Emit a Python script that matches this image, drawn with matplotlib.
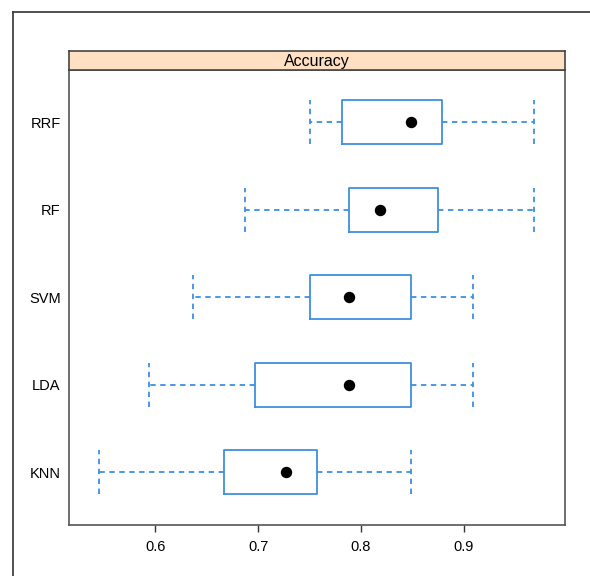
import matplotlib
matplotlib.use("Agg")
import matplotlib.pyplot as plt
from matplotlib.lines import Line2D

plt.rcParams['font.family'] = ['Liberation Sans', 'DejaVu Sans']

models = ['KNN', 'LDA', 'SVM', 'RF', 'RRF']
whisker_low = [0.5455, 0.5938, 0.6364, 0.6875, 0.7500]
q1 = [0.6667, 0.6970, 0.7500, 0.7879, 0.7813]
medians = [0.7273, 0.7879, 0.7879, 0.8182, 0.8485]
q3 = [0.7576, 0.8485, 0.8485, 0.8750, 0.8788]
whisker_high = [0.8485, 0.9091, 0.9091, 0.9688, 0.9688]
x_ticks = [0.6, 0.7, 0.8, 0.9]
panel_title = 'Accuracy'

blue = '#3f8fe0'
W, H = 590, 576
fig = plt.figure(figsize=(W / 100, H / 100), dpi=100)
fig.patch.set_facecolor('white')

left, right = 69 / W, 565 / W
bottom, top = 1 - 524.7 / H, 1 - 69.7 / H
strip_top = 1 - 50.7 / H

ax = fig.add_axes([left, bottom, right - left, top - bottom])
stats = []
for i, m in enumerate(models):
    stats.append(dict(label=m, whislo=whisker_low[i], q1=q1[i], med=medians[i],
                      q3=q3[i], whishi=whisker_high[i], fliers=[]))
positions = list(range(1, len(models) + 1))
ax.bxp(stats, positions=positions, vert=False, widths=0.5, capwidths=0.5,
       showfliers=False, patch_artist=False,
       boxprops=dict(color=blue, linewidth=1.3),
       whiskerprops=dict(color=blue, linewidth=1.3, linestyle=(0, (3, 2.5))),
       capprops=dict(color=blue, linewidth=1.3, linestyle=(0, (3, 2.5))),
       medianprops=dict(linewidth=0))
ax.plot(medians, positions, 'o', color='black', markersize=7.2, zorder=5)

ax.set_xlim(0.516, 0.9985)
ax.set_ylim(0.4, 5.6)
ax.set_xticks(x_ticks)
ax.set_xticklabels([f'{t:.1f}' for t in x_ticks])
ax.set_yticks(positions)
ax.set_yticklabels(models)
ax.tick_params(axis='x', direction='out', length=5, width=1, color='#333333',
               labelsize=10.5, pad=6)
ax.tick_params(axis='y', length=0, labelsize=10.5, pad=6)
for s in ax.spines.values():
    s.set_color('#555555')
    s.set_linewidth(1.2)

sax = fig.add_axes([left, top, right - left, strip_top - top])
sax.set_facecolor('#FFE0C2')
sax.set_xticks([])
sax.set_yticks([])
for s in sax.spines.values():
    s.set_color('#444444')
    s.set_linewidth(1.2)
sax.text(0.5, 0.45, panel_title, ha='center', va='center', fontsize=11.5,
         transform=sax.transAxes)

fx = 13 / W
fy = 1 - 11.5 / H
fig.add_artist(Line2D([fx, fx], [0, fy], transform=fig.transFigure,
                      color='#333333', linewidth=1.2))
fig.add_artist(Line2D([fx, 1], [fy, fy], transform=fig.transFigure,
                      color='#333333', linewidth=1.2))

fig.savefig('out.png', dpi=100)
